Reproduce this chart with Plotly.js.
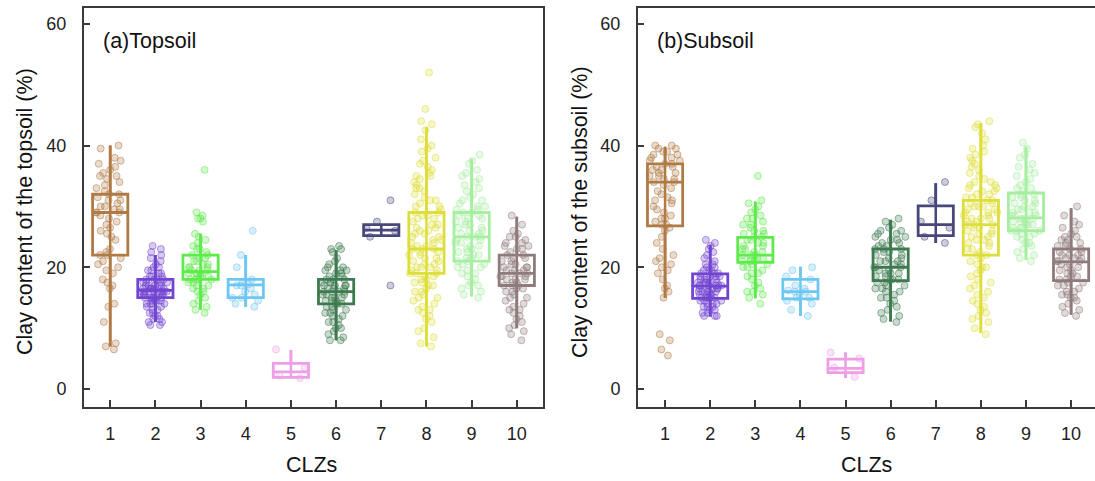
<!DOCTYPE html>
<html>
<head>
<meta charset="utf-8">
<script src="https://cdn.plot.ly/plotly-3.0.1.min.js"></script>
<style>
  html, body { margin: 0; padding: 0; background: #ffffff; }
  #chart { width: 1095px; height: 481px; }
</style>
</head>
<body>
<div id="chart"></div>
<script>
// Climate zones (CLZs) on the x axis
const clz = [1, 2, 3, 4, 5, 6, 7, 8, 9, 10];
const zoneColors = ['#B07A45', '#7244D2', '#5FEA4C', '#6EC6F2', '#EE9EE6',
                    '#3E7A50', '#47477C', '#DEDE3A', '#A6EEA0', '#8F7B7B'];
const yTicks = [0, 20, 40, 60];

// Box summaries, topsoil
const topQ1  = [22, 15, 18, 15, 1.9, 14, 25.2, 19, 21, 17];
const topMed = [29, 16.2, 19.3, 17.1, 2.8, 16, 26.1, 23, 25, 19];
const topQ3  = [32, 18, 22, 18, 4.2, 18, 27, 29, 29, 22];
const topLo  = [7, 11, 13, 13.5, 1.8, 8, 25.2, 7, 15.2, 10];
const topHi  = [40, 22, 25.5, 22, 6.4, 22.8, 27, 43, 37.8, 28.3];

// Box summaries, subsoil
const subQ1  = [26.8, 14.9, 20.8, 14.8, 2.7, 17.8, 25.2, 22, 26, 17.8];
const subMed = [34, 16.9, 22, 16, 3.4, 20, 27, 27, 28.1, 20.9];
const subQ3  = [37, 18.9, 24.9, 18, 4.9, 23, 30.1, 31, 32.2, 23];
const subLo  = [15, 11.9, 14.9, 12, 1.8, 11.1, 24, 9.2, 21.2, 12.2];
const subHi  = [39.8, 23.7, 30.8, 20.1, 6, 27.8, 33.8, 43.7, 39.8, 29.7];

// Sample values, topsoil clay content (%)
const top1 = [40, 39.5, 38, 37.5, 37, 36.5, 36, 35.5, 35, 35, 34.5, 34, 33.5, 33, 32.5, 32, 32, 31.5, 31, 31, 30.5, 30, 30, 29.5, 29.5, 29, 29, 29, 28.5, 28, 27.5, 27, 26.5, 26, 25.5, 25, 24.5, 23, 22.5, 22, 22, 21.5, 21, 20.5, 20, 19.5, 19, 18, 17.5, 17, 16.5, 14, 13.5, 11, 7.5, 7, 6.5];
const top2 = [23.5, 23, 22.5, 22, 21.5, 21, 20.5, 20, 20, 19.5, 19.5, 19, 19, 18.5, 18.5, 18.5, 18, 18, 18, 18, 17.5, 17.5, 17.5, 17.5, 17, 17, 17, 17, 17, 16.5, 16.5, 16.5, 16.5, 16.5, 16.5, 16, 16, 16, 16, 16, 16, 16, 15.5, 15.5, 15.5, 15.5, 15.5, 15.5, 15, 15, 15, 15, 15, 15, 14.5, 14.5, 14.5, 14.5, 14, 14, 14, 14, 13.5, 13.5, 13, 13, 12.5, 12.5, 12, 12, 11.5, 11.5, 11, 11, 10.5, 10.5];
const top3 = [36, 29, 28.5, 28, 28, 27.5, 25.5, 25, 24.5, 24, 23.5, 23, 23, 22.5, 22, 22, 21.5, 21.5, 21, 21, 20.5, 20.5, 20, 20, 20, 19.5, 19.5, 19.5, 19, 19, 19, 19, 18.5, 18.5, 18.5, 18, 18, 18, 18, 17.5, 17.5, 17, 17, 16.5, 16.5, 16, 16, 15.5, 15, 14.5, 14, 13.5, 13, 12.5];
const top4 = [26, 22, 20, 18, 17.5, 17.2, 17, 17, 16.5, 16, 15.5, 15, 15, 14.5, 14, 13.5];
const top5 = [6.5, 3.5, 2.2, 1.8];
const top6 = [23.5, 23, 23, 22.5, 21.5, 21, 20.5, 20, 20, 19.5, 19.5, 19.5, 19, 19, 18.5, 18.5, 18, 18, 18, 17.5, 17.5, 17.5, 17, 17, 17, 17, 16.5, 16.5, 16.5, 16, 16, 16, 16, 15.5, 15.5, 15.5, 15, 15, 15, 14.5, 14.5, 14.5, 14, 14, 14, 13.5, 13.5, 13, 13, 12.5, 12.5, 12, 12, 11.5, 11, 11, 10.5, 10, 10, 9.5, 9, 8.5, 8, 8];
const top7 = [31, 27.5, 26.5, 26, 25, 17];
const top8 = [52, 46, 44, 43.5, 42.5, 41, 40, 39.5, 39, 38, 37.5, 37, 36.5, 36, 35.5, 35, 35, 34.5, 34, 33.5, 33, 33, 32.5, 32, 31.5, 31, 31, 30.5, 30, 30, 29.5, 29, 29, 28.5, 28.5, 28, 28, 27.5, 27, 27, 26.5, 26.5, 26, 26, 25.5, 25.5, 25, 25, 24.5, 24.5, 24, 24, 23.5, 23.5, 23, 23, 23, 22.5, 22.5, 22, 22, 21.5, 21.5, 21, 21, 20.5, 20.5, 20, 20, 20, 19.5, 19.5, 19, 19, 19, 18.5, 18.5, 18, 18, 17.5, 17.5, 17, 17, 16.5, 16, 16, 15.5, 15, 15, 14.5, 14, 13.5, 13, 13, 12.5, 12, 11.5, 11, 10, 9.5, 8.5, 7.5, 7];
const top9 = [38.5, 37.5, 37, 36, 35.5, 35, 34.5, 34, 33.5, 33, 32.5, 32, 31.5, 31, 31, 30.5, 30, 30, 29.5, 29.5, 29, 29, 28.5, 28.5, 28, 28, 27.5, 27.5, 27, 27, 26.5, 26.5, 26, 26, 25.5, 25.5, 25, 25, 25, 24.5, 24.5, 24, 24, 23.5, 23.5, 23, 23, 22.5, 22.5, 22, 22, 21.5, 21.5, 21, 21, 20.5, 20.5, 20, 20, 19.5, 19, 19, 18.5, 18, 17.5, 17, 17, 16.5, 16, 15.5, 15];
const top10 = [28.5, 27, 26, 25.5, 25, 25, 24.5, 24, 24, 23.5, 23.5, 23, 23, 22.5, 22, 22, 21.5, 21.5, 21, 21, 20.5, 20.5, 20, 20, 20, 19.5, 19.5, 19.5, 19, 19, 19, 18.5, 18.5, 18.5, 18, 18, 18, 17.5, 17.5, 17, 17, 17, 16.5, 16.5, 16, 16, 15.5, 15, 15, 14.5, 14, 13.5, 13, 13, 12.5, 12, 11.5, 11, 10.5, 10, 9.5, 9, 8];

// Sample values, subsoil clay content (%)
const sub1 = [40, 40, 39.5, 39.5, 39, 39, 38.5, 38.5, 38, 38, 37.5, 37.5, 37, 37, 36.5, 36.5, 36, 36, 35.5, 35.5, 35, 35, 34.5, 34.5, 34, 34, 33.5, 33, 32.5, 32, 31.5, 31, 31, 30.5, 30, 29.5, 29, 28.5, 28, 28, 27.5, 27, 27, 26.5, 26, 25, 24, 23, 22, 21.5, 21, 20.5, 20, 19.5, 19, 18, 17, 16.5, 16, 15, 9, 8, 6.5, 5.5];
const sub2 = [24.5, 24, 23.5, 23, 22.5, 22, 21.5, 21, 20.5, 20.5, 20, 20, 19.5, 19.5, 19.5, 19, 19, 19, 18.5, 18.5, 18.5, 18.5, 18, 18, 18, 18, 17.5, 17.5, 17.5, 17.5, 17.5, 17, 17, 17, 17, 17, 17, 16.5, 16.5, 16.5, 16.5, 16.5, 16, 16, 16, 16, 16, 15.5, 15.5, 15.5, 15.5, 15, 15, 15, 15, 15, 14.5, 14.5, 14.5, 14, 14, 14, 13.5, 13.5, 13.5, 13, 13, 12.5, 12.5, 12, 12, 12];
const sub3 = [35, 31, 30.5, 30, 29.5, 29, 28.5, 28, 28, 27.5, 27, 27, 26.5, 26, 26, 25.5, 25.5, 25, 25, 24.5, 24.5, 24, 24, 23.5, 23.5, 23, 23, 22.5, 22.5, 22, 22, 22, 21.5, 21.5, 21.5, 21, 21, 21, 20.5, 20.5, 20, 20, 19.5, 19, 19, 18.5, 18, 17.5, 17, 16.5, 16, 16, 15.5, 15, 14];
const sub4 = [20, 19.5, 18.5, 18, 17, 16.5, 16.2, 16, 16, 15.5, 15, 15, 14.5, 14, 13, 12];
const sub5 = [6, 5, 3.5, 2];
const sub6 = [28, 27.5, 27, 26.5, 26, 26, 25.5, 25.5, 25, 25, 24.5, 24.5, 24, 24, 23.5, 23.5, 23, 23, 23, 22.5, 22.5, 22, 22, 21.5, 21.5, 21, 21, 21, 20.5, 20.5, 20, 20, 20, 19.5, 19.5, 19, 19, 19, 18.5, 18.5, 18, 18, 18, 17.5, 17.5, 17, 17, 16.5, 16.5, 16, 16, 15.5, 15, 15, 14.5, 14, 13.5, 13, 12.5, 12, 11.5, 11];
const sub7 = [34, 31, 27.5, 26.5, 25, 24];
const sub8 = [44, 43.5, 43, 42, 41, 40, 39.5, 39, 38.5, 38, 37.5, 37, 36.5, 36, 35.5, 35, 34.5, 34, 34, 33.5, 33.5, 33, 33, 32.5, 32.5, 32, 32, 31.5, 31.5, 31, 31, 30.5, 30.5, 30, 30, 30, 29.5, 29.5, 29, 29, 29, 28.5, 28.5, 28, 28, 28, 27.5, 27.5, 27, 27, 27, 26.5, 26.5, 26, 26, 25.5, 25.5, 25, 25, 24.5, 24.5, 24, 24, 23.5, 23, 23, 22.5, 22, 22, 21.5, 21, 20.5, 20, 20, 19.5, 19, 18.5, 18, 17.5, 17, 16.5, 16, 15.5, 15, 14.5, 14, 13.5, 13, 12.5, 12, 11.5, 11, 10, 9];
const sub9 = [40.5, 39.5, 38.5, 38, 37, 36.5, 36, 35.5, 35, 34.5, 34, 33.5, 33, 33, 32.5, 32, 32, 31.5, 31.5, 31, 31, 30.5, 30.5, 30, 30, 29.5, 29.5, 29, 29, 29, 28.5, 28.5, 28.5, 28, 28, 28, 27.5, 27.5, 27.5, 27, 27, 27, 26.5, 26.5, 26.5, 26, 26, 26, 25.5, 25.5, 25, 25, 24.5, 24, 24, 23.5, 23, 22.5, 22, 21.5, 21];
const sub10 = [30, 28.5, 27.5, 27, 26.5, 26, 25.5, 25, 25, 24.5, 24.5, 24, 24, 23.5, 23.5, 23, 23, 22.5, 22.5, 22, 22, 22, 21.5, 21.5, 21.5, 21, 21, 21, 20.5, 20.5, 20, 20, 19.5, 19.5, 19, 19, 18.5, 18.5, 18, 18, 17.5, 17.5, 17, 17, 16.5, 16, 16, 15.5, 15.5, 15, 15, 14.5, 14, 13.5, 13, 12.5, 12];

const topSamples = [top1, top2, top3, top4, top5, top6, top7, top8, top9, top10];
const subSamples = [sub1, sub2, sub3, sub4, sub5, sub6, sub7, sub8, sub9, sub10];

function rgba(hex, a) {
  const n = parseInt(hex.slice(1), 16);
  return 'rgba(' + ((n >> 16) & 255) + ',' + ((n >> 8) & 255) + ',' + (n & 255) + ',' + a + ')';
}

const BOX_W = 0.78;
const traces = [];

function addPanel(samples, q1, med, q3, lo, hi, xa, ya) {
  // jittered sample points (the carrier box itself is invisible)
  clz.forEach((c, i) => {
    traces.push({
      type: 'box', xaxis: xa, yaxis: ya,
      x: samples[i].map(() => c), y: samples[i],
      boxpoints: 'all', jitter: 1, pointpos: 0, width: BOX_W,
      fillcolor: 'rgba(0,0,0,0)', line: { width: 0, color: 'rgba(0,0,0,0)' },
      marker: { size: 7, color: rgba(zoneColors[i], 0.28),
                line: { width: 1, color: rgba(zoneColors[i], 0.5) } },
      showlegend: false, hoverinfo: 'skip'
    });
  });
  // whisker line spanning the full fence range
  clz.forEach((c, i) => {
    traces.push({
      type: 'scatter', mode: 'lines', xaxis: xa, yaxis: ya,
      x: [c, c], y: [lo[i], hi[i]],
      line: { color: zoneColors[i], width: 2.5 },
      showlegend: false, hoverinfo: 'skip'
    });
  });
  // boxes from the summary statistics
  clz.forEach((c, i) => {
    traces.push({
      type: 'box', xaxis: xa, yaxis: ya,
      x: [c], q1: [q1[i]], median: [med[i]], q3: [q3[i]],
      lowerfence: [lo[i]], upperfence: [hi[i]],
      boxpoints: false, width: BOX_W, whiskerwidth: 0,
      fillcolor: 'rgba(0,0,0,0)',
      line: { color: zoneColors[i], width: 2.8 },
      showlegend: false, hoverinfo: 'skip'
    });
  });
}

addPanel(topSamples, topQ1, topMed, topQ3, topLo, topHi, 'x', 'y');
addPanel(subSamples, subQ1, subMed, subQ3, subLo, subHi, 'x2', 'y2');

const W = 1095, H = 481;
const frame = '#3a3a3a';
const tickFont = { family: 'Liberation Sans, Arial, sans-serif', size: 18, color: '#222' };

function xAxis(domain, range) {
  return {
    domain: domain, range: range, tickmode: 'array', tickvals: clz, ticktext: clz.map(String),
    showline: true, mirror: true, linewidth: 2, linecolor: frame,
    ticks: 'inside', ticklen: 7, tickwidth: 2, tickcolor: frame,
    ticklabelstandoff: 9, tickfont: tickFont,
    showgrid: false, zeroline: false, fixedrange: true
  };
}
function yAxis(anchor) {
  return {
    domain: [1 - 407 / H, 1 - 8 / H], range: [-2.96, 62.6], anchor: anchor,
    tickmode: 'array', tickvals: yTicks, ticktext: yTicks.map(String),
    showline: true, mirror: true, linewidth: 2, linecolor: frame,
    ticks: 'inside', ticklen: 6, tickwidth: 2, tickcolor: frame,
    ticklabelstandoff: 12, tickfont: tickFont,
    showgrid: false, zeroline: false, fixedrange: true
  };
}

const labelFont = { family: 'Liberation Sans, Arial, sans-serif', size: 21.5, color: '#111' };
const titleFont = { family: 'Liberation Sans, Arial, sans-serif', size: 21.5, color: '#111' };

const layout = {
  width: W, height: H,
  margin: { l: 0, r: 0, t: 0, b: 0 },
  paper_bgcolor: '#ffffff', plot_bgcolor: '#ffffff',
  showlegend: false, hovermode: false, boxmode: 'overlay',
  xaxis: Object.assign(xAxis([84 / W, 543 / W], [0.42, 10.58]), { anchor: 'y' }),
  yaxis: yAxis('x'),
  xaxis2: Object.assign(xAxis([638 / W, 1], [0.40, 10.53]), { anchor: 'y2' }),
  yaxis2: yAxis('x2'),
  annotations: [
    { text: '(a)Topsoil', xref: 'paper', yref: 'paper', x: 101 / W, y: 1 - 41 / H,
      xanchor: 'left', yanchor: 'middle', showarrow: false, font: labelFont },
    { text: '(b)Subsoil', xref: 'paper', yref: 'paper', x: 655 / W, y: 1 - 41 / H,
      xanchor: 'left', yanchor: 'middle', showarrow: false, font: labelFont },
    { text: 'Clay content of the topsoil (%)', xref: 'paper', yref: 'paper',
      x: 25 / W, y: 1 - 212 / H, textangle: -90, xanchor: 'center', yanchor: 'middle',
      showarrow: false, font: titleFont },
    { text: 'Clay content of the subsoil (%)', xref: 'paper', yref: 'paper',
      x: 580 / W, y: 1 - 212 / H, textangle: -90, xanchor: 'center', yanchor: 'middle',
      showarrow: false, font: titleFont },
    { text: 'CLZs', xref: 'paper', yref: 'paper', x: 311 / W, y: 1 - 465 / H,
      xanchor: 'center', yanchor: 'middle', showarrow: false, font: labelFont },
    { text: 'CLZs', xref: 'paper', yref: 'paper', x: 866 / W, y: 1 - 465 / H,
      xanchor: 'center', yanchor: 'middle', showarrow: false, font: labelFont }
  ]
};

Plotly.newPlot('chart', traces, layout, { displayModeBar: false, staticPlot: true });
</script>
</body>
</html>
